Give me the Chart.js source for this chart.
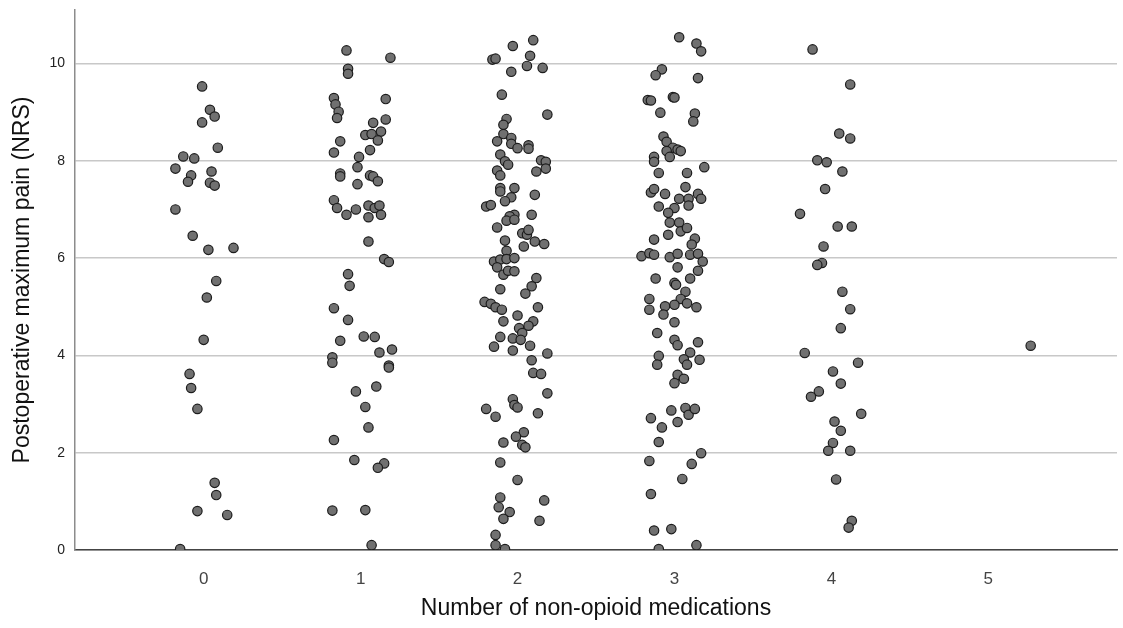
<!DOCTYPE html>
<html>
<head>
<meta charset="utf-8">
<script src="https://cdn.jsdelivr.net/npm/chart.js@4"></script>
<style>
  html, body { margin: 0; padding: 0; background: #fff; }
  #wrap { width: 1123px; height: 628px; }
</style>
</head>
<body>
<div id="wrap"><canvas id="painChart" width="1123" height="628"></canvas></div>
<script>
// categories on the x axis (number of non-opioid medications)
var categories = [0, 1, 2, 3, 4, 5];
var xTicks = [0, 1, 2, 3, 4, 5];
var yTicks = [0, 2, 4, 6, 8, 10];

// postoperative max pain per group, and horizontal jitter
var pain0 = [9.53, 9.05, 8.91, 8.79, 8.27, 8.09, 8.05, 7.84, 7.78, 7.70, 7.57, 7.55, 7.49, 7.00, 6.46, 6.17, 6.21, 5.53, 5.19, 4.32, 3.62, 3.33, 2.90, 1.38, 1.13, 0.80, 0.72, 0.02];
var jitter0 = [-0.01, 0.04, 0.07, -0.01, 0.09, -0.13, -0.06, -0.18, 0.05, -0.08, -0.10, 0.04, 0.07, -0.18, -0.07, 0.03, 0.19, 0.08, 0.02, 0.00, -0.09, -0.08, -0.04, 0.07, 0.08, -0.04, 0.15, -0.15];

var pain1 = [10.27, 10.12, 9.89, 9.79, 9.29, 9.16, 9.01, 8.88, 9.27, 8.78, 8.85, 8.53, 8.55, 8.60, 8.42, 8.40, 8.17, 8.22, 8.08, 7.87, 7.74, 7.68, 7.70, 7.68, 7.58, 7.52, 7.19, 7.03, 6.89, 7.00, 7.08, 6.84, 7.03, 7.08, 6.89, 6.34, 5.98, 5.92, 5.67, 5.43, 4.97, 4.73, 4.30, 4.39, 4.38, 3.96, 3.85, 4.06, 4.12, 3.79, 3.75, 3.36, 3.26, 2.94, 2.52, 2.26, 1.85, 1.78, 1.69, 0.81, 0.82, 0.10];
var jitter1 = [-0.09, 0.19, -0.08, -0.08, -0.17, -0.16, -0.14, -0.15, 0.16, 0.08, 0.16, 0.03, 0.07, 0.13, 0.11, -0.13, -0.17, 0.06, -0.01, -0.02, -0.13, -0.13, 0.06, 0.08, 0.11, -0.02, -0.17, -0.15, -0.09, -0.03, 0.05, 0.05, 0.09, 0.12, 0.13, 0.05, 0.15, 0.18, -0.08, -0.07, -0.17, -0.08, -0.13, 0.02, 0.09, -0.18, -0.18, 0.12, 0.20, 0.18, 0.18, 0.10, -0.03, 0.03, 0.05, -0.17, -0.04, 0.15, 0.11, -0.18, 0.03, 0.07];

var pain2 = [10.48, 10.36, 10.16, 10.08, 10.10, 9.83, 9.95, 9.91, 9.36, 8.95, 8.86, 8.74, 8.55, 8.47, 8.40, 8.35, 8.26, 8.32, 8.25, 8.13, 7.99, 7.92, 8.01, 7.98, 7.84, 7.78, 7.80, 7.70, 7.44, 7.44, 7.37, 7.30, 7.25, 7.17, 7.06, 7.09, 6.89, 6.86, 6.77, 6.79, 6.89, 6.63, 6.51, 6.48, 6.58, 6.36, 6.34, 6.29, 6.24, 6.15, 5.93, 5.97, 5.98, 6.00, 5.81, 5.66, 5.74, 5.73, 5.59, 5.42, 5.27, 5.36, 5.10, 5.06, 4.99, 4.94, 4.99, 4.82, 4.70, 4.70, 4.61, 4.56, 4.46, 4.38, 4.35, 4.32, 4.18, 4.20, 4.10, 4.04, 3.90, 3.64, 3.62, 3.22, 3.10, 2.98, 2.93, 2.90, 2.74, 2.81, 2.42, 2.33, 2.16, 2.11, 2.21, 1.80, 1.44, 1.08, 0.88, 0.78, 1.02, 0.64, 0.60, 0.31, 0.10, 0.02];
var jitter2 = [0.10, -0.03, 0.08, -0.16, -0.14, -0.04, 0.06, 0.16, -0.10, 0.19, -0.07, -0.09, -0.09, -0.04, -0.13, -0.04, 0.00, 0.07, 0.07, -0.11, -0.08, -0.06, 0.15, 0.18, 0.18, 0.12, -0.13, -0.11, -0.11, -0.02, -0.11, 0.11, -0.04, -0.08, -0.20, -0.17, -0.02, -0.05, -0.07, -0.02, 0.09, -0.13, 0.03, 0.06, 0.07, -0.08, 0.11, 0.17, 0.04, -0.07, -0.15, -0.11, -0.07, -0.02, -0.13, -0.09, -0.06, -0.02, 0.12, 0.09, 0.05, -0.11, -0.21, -0.17, -0.14, -0.10, 0.13, 0.00, -0.09, 0.10, 0.07, 0.01, 0.03, -0.11, -0.03, 0.02, -0.15, 0.08, -0.03, 0.19, 0.09, 0.10, 0.15, 0.19, -0.03, -0.02, 0.00, -0.20, -0.14, 0.13, 0.04, -0.01, 0.03, 0.05, -0.09, -0.11, 0.00, -0.11, -0.12, -0.05, 0.17, -0.09, 0.14, -0.14, -0.14, -0.08];

var pain3 = [10.54, 10.41, 10.25, 9.88, 9.76, 9.70, 9.25, 9.24, 9.31, 9.30, 8.99, 8.97, 8.81, 8.50, 8.39, 8.27, 8.20, 8.23, 8.20, 8.08, 8.08, 7.98, 7.87, 7.75, 7.75, 7.35, 7.42, 7.32, 7.46, 7.22, 7.22, 7.32, 7.22, 7.06, 7.03, 7.08, 6.93, 6.73, 6.73, 6.55, 6.62, 6.48, 6.38, 6.40, 6.28, 6.04, 6.10, 6.07, 6.02, 6.09, 6.07, 6.09, 5.93, 5.81, 5.74, 5.58, 5.58, 5.49, 5.45, 5.31, 5.16, 5.16, 4.94, 5.01, 5.04, 5.07, 4.99, 4.84, 4.68, 4.46, 4.32, 4.21, 4.27, 4.06, 3.99, 3.81, 3.92, 3.81, 3.91, 3.60, 3.43, 3.52, 2.71, 2.87, 2.92, 2.78, 2.90, 2.52, 2.63, 2.22, 1.99, 1.83, 1.77, 1.46, 1.15, 0.40, 0.43, 0.02, 0.10];
var jitter3 = [0.03, 0.14, 0.17, -0.08, -0.12, 0.15, -0.17, -0.15, -0.01, 0.00, -0.09, 0.13, 0.12, -0.07, -0.05, -0.01, -0.05, 0.02, 0.04, -0.03, -0.13, -0.13, 0.19, -0.10, 0.08, -0.15, -0.13, -0.06, 0.07, 0.03, 0.09, 0.15, 0.17, -0.10, 0.00, 0.09, -0.04, -0.03, 0.03, 0.04, 0.08, -0.04, -0.13, 0.13, 0.11, -0.21, -0.16, -0.13, -0.03, 0.02, 0.10, 0.15, 0.18, 0.02, 0.15, -0.12, 0.10, 0.00, 0.01, 0.07, -0.16, 0.04, -0.16, -0.06, 0.00, 0.08, 0.14, -0.07, 0.00, -0.11, 0.00, 0.02, 0.15, 0.10, -0.10, -0.11, 0.06, 0.08, 0.16, 0.02, 0.00, 0.06, -0.15, -0.02, 0.07, 0.09, 0.13, -0.08, 0.02, -0.10, 0.17, -0.16, 0.11, 0.05, -0.15, -0.13, -0.02, -0.10, 0.14];

var pain4 = [10.29, 9.57, 8.56, 8.46, 8.01, 7.97, 7.78, 7.42, 6.91, 6.65, 6.65, 6.24, 5.90, 5.86, 5.31, 4.95, 4.56, 4.05, 3.85, 3.67, 3.42, 3.26, 3.15, 2.80, 2.64, 2.45, 2.20, 2.04, 2.04, 1.45, 0.60, 0.46];
var jitter4 = [-0.12, 0.12, 0.05, 0.12, -0.09, -0.03, 0.07, -0.04, -0.20, 0.04, 0.13, -0.05, -0.06, -0.09, 0.07, 0.12, 0.06, -0.17, 0.17, 0.01, 0.06, -0.08, -0.13, 0.19, 0.02, 0.06, 0.01, -0.02, 0.12, 0.03, 0.13, 0.11];

var pain5 = [4.20];
var jitter5 = [0.27];

var painGroups = [pain0, pain1, pain2, pain3, pain4, pain5];
var jitterGroups = [jitter0, jitter1, jitter2, jitter3, jitter4, jitter5];

var FONT = "'Liberation Sans', Arial, sans-serif";

function buildPoints() {
    var pts = [];
    for (var g = 0; g < categories.length; g++) {
        painGroups[g].forEach(function (v, i) {
            pts.push({ x: categories[g] + jitterGroups[g][i], y: v });
        });
    }
    return pts;
}

var ctx = document.getElementById('painChart').getContext('2d');
var painChart = new Chart(ctx, {
    type: 'scatter',
    data: {
        datasets: [{
            label: 'Patients',
            data: buildPoints(),
            pointRadius: 4.7,
            pointBackgroundColor: '#707070',
            pointBorderColor: '#1c1c1c',
            pointBorderWidth: 1.2
        }]
    },
    options: {
        responsive: false,
        animation: false,
        layout: { padding: { left: 0, right: 6, top: 10, bottom: 0 } },
        plugins: {
            legend: { display: false },
            tooltip: { enabled: false }
        },
        scales: {
            x: {
                type: 'linear',
                min: -0.82,
                max: 5.82,
                afterBuildTicks: function (axis) {
                    axis.ticks = xTicks.map(function (v) { return { value: v }; });
                },
                afterFit: function (axis) {
                    axis.height = 78;
                    axis.paddingLeft = 0;
                    axis.paddingRight = 0;
                },
                grid: { display: false, drawTicks: false },
                border: { display: true, color: '#444', width: 1.5 },
                ticks: {
                    padding: 19,
                    color: '#444',
                    font: { family: FONT, size: 17 }
                },
                title: {
                    display: true,
                    text: 'Number of non-opioid medications',
                    color: '#111',
                    font: { family: FONT, size: 23 },
                    padding: { top: 0, bottom: 6 }
                }
            },
            y: {
                min: 0,
                max: 11.1,
                afterBuildTicks: function (axis) {
                    axis.ticks = yTicks.map(function (v) { return { value: v }; });
                },
                afterFit: function (axis) {
                    axis.width = 75;
                    axis.paddingTop = 0;
                    axis.paddingBottom = 0;
                },
                grid: { color: '#c8c8c8', lineWidth: 1.5, drawTicks: false },
                border: { display: true, color: '#8c8c8c', width: 1.5 },
                ticks: {
                    padding: 10,
                    color: '#222',
                    font: { family: FONT, size: 14 }
                },
                title: {
                    display: true,
                    text: 'Postoperative maximum pain (NRS)',
                    color: '#111',
                    font: { family: FONT, size: 23 },
                    padding: { top: 9, bottom: 0 }
                }
            }
        }
    }
});
</script>
</body>
</html>
